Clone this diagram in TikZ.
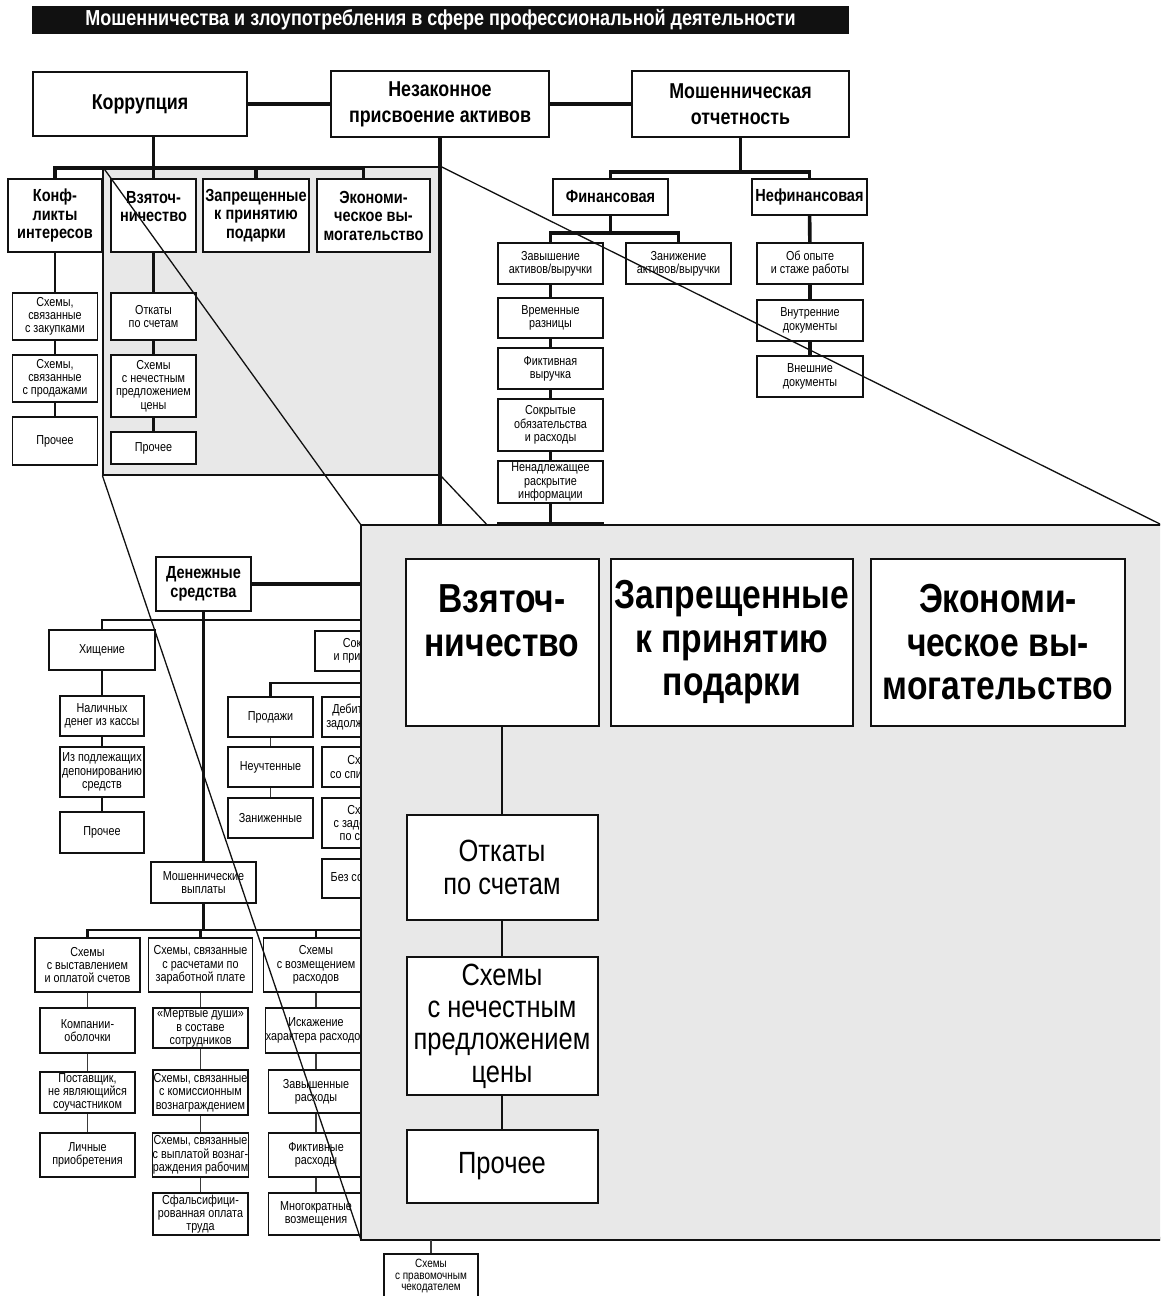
\documentclass[tikz,border=0pt]{standalone}
\usepackage{fontspec}
\setmainfont[FakeStretch=0.83]{Liberation Sans}
\usetikzlibrary{positioning,calc}
\definecolor{Ink}{HTML}{111111}
\definecolor{Shade}{HTML}{E8E8E8}
\definecolor{Link}{HTML}{3A3A3A}
\tikzset{
  boxsize/.style 2 args={minimum width=#1pt,minimum height=#2pt},
  titlebar/.style={fill=Ink,text=white,inner sep=0pt,font=\fontsize{21.7}{22}\selectfont\bfseries},
  topbox/.style={draw=Ink,fill=white,line width=1.8pt,align=center,inner sep=1pt,font=\fontsize{21.5}{26}\selectfont\bfseries},
  groupbox/.style={draw=Ink,fill=white,line width=1.6pt,align=center,inner sep=1pt,font=\fontsize{17.5}{18.5}\selectfont\bfseries},
  leafbox/.style={draw=Ink,fill=white,line width=1.4pt,align=center,inner sep=0.5pt,font=\fontsize{13}{13.3}\selectfont},
  bigbox/.style={draw=Ink,fill=white,line width=2pt,align=center,inner sep=1pt,font=\fontsize{40.5}{43.5}\selectfont\bfseries},
  bigleaf/.style={draw=Ink,fill=white,line width=2pt,align=center,inner sep=1pt,font=\fontsize{30.7}{32.3}\selectfont},
  panel/.style={draw=Ink,fill=Shade,line width=1.2pt,inner sep=0pt},
  link/.style={draw=Ink,line width=3.6pt},
  midlink/.style={draw=Ink,line width=2.6pt},
  thinlink/.style={draw=Link,line width=1.8pt},
  ray/.style={draw=Ink,line width=1.3pt}
}

\begin{document}
\begin{tikzpicture}[x=1pt,y=-1pt]
  \useasboundingbox (0,0) rectangle (1160,1296);
  \clip (0,0) rectangle (1160,1296);

  \node[titlebar,boxsize={817}{28}] (title) at (440.5,20) {Мошенничества и злоупотребления в сфере профессиональной деятельности};

  % part of the tree shown enlarged
  \node[panel,boxsize={337}{308}] (src) at (271.5,321) {};

  % top level
  \node[topbox,boxsize={214}{64}] (korr) at (140,104) {Коррупция};
  \node[topbox,boxsize={218}{66}] (nezak) at (440,104) {Незаконное\\присвоение активов};
  \node[topbox,boxsize={217}{66}] (moshot) at (740.5,104) {Мошенническая\\отчетность};

  % corruption
  \node[groupbox,boxsize={94}{73}] (konf) at (55,215.5) {Конф-\\ликты\\интересов};
  \node[groupbox,boxsize={85}{73}] (vzyat) at (153.5,215.5) {Взяточ-\\ничество\\\mbox{}};
  \node[groupbox,boxsize={106}{73}] (zapr) at (256,215.5) {Запрещенные\\к принятию\\подарки};
  \node[groupbox,boxsize={113}{73}] (ekon) at (373.5,215.5) {Экономи-\\ческое вы-\\могательство};
  \node[leafbox,boxsize={85}{47}] (konf1) at (55,316.5) {Схемы,\\связанные\\с закупками};
  \node[leafbox,boxsize={85}{47}] (konf2) at (55,378.5) {Схемы,\\связанные\\с продажами};
  \node[leafbox,boxsize={85}{48}] (konf3) at (55,441) {Прочее};
  \node[leafbox,boxsize={85}{47}] (vz1) at (153.5,316.5) {Откаты\\по счетам};
  \node[leafbox,boxsize={85}{62}] (vz2) at (153.5,386) {Схемы\\с нечестным\\предложением\\цены};
  \node[leafbox,boxsize={85}{32}] (vz3) at (153.5,448) {Прочее};

  % fraudulent statements
  \node[groupbox,boxsize={115}{36}] (fin) at (610.5,197) {Финансовая};
  \node[groupbox,boxsize={115}{36}] (nefin) at (809.5,197) {Нефинансовая};
  \node[leafbox,boxsize={105}{41}] (zav) at (550.5,263.5) {Завышение\\активов/выручки};
  \node[leafbox,boxsize={105}{41}] (zan) at (678.5,263.5) {Занижение\\активов/выручки};
  \node[leafbox,boxsize={105}{40}] (vrem) at (550.5,318) {Временные\\разницы};
  \node[leafbox,boxsize={105}{41}] (fikt) at (550.5,368.5) {Фиктивная\\выручка};
  \node[leafbox,boxsize={105}{52}] (sokr) at (550.5,425) {Сокрытые\\обязательства\\и расходы};
  \node[leafbox,boxsize={105}{42}] (nenad) at (550.5,482) {Ненадлежащее\\раскрытие\\информации};
  \node[leafbox,boxsize={105}{42}] (nextf) at (550.5,544) {};
  \node[leafbox,boxsize={106}{41}] (opyt) at (810,263.5) {Об опыте\\и стаже работы};
  \node[leafbox,boxsize={106}{41}] (vnutr) at (810,320.5) {Внутренние\\документы};
  \node[leafbox,boxsize={106}{41}] (vnesh) at (810,376.5) {Внешние\\документы};

  % cash
  \node[groupbox,boxsize={95}{54}] (den) at (203.5,584) {Денежные\\средства};
  \node[leafbox,boxsize={106}{40}] (hish) at (102,650) {Хищение};
  \node[leafbox,boxsize={84}{40}] (nal) at (102,716) {Наличных\\денег из кассы};
  \node[leafbox,boxsize={84}{50}] (depon) at (102,772) {Из подлежащих\\депонированию\\средств};
  \node[leafbox,boxsize={84}{41}] (hproch) at (102,832.5) {Прочее};
  \node[leafbox,boxsize={105}{40}] (so) at (367.5,651) {Сокрытие\\и присвоение};
  \node[leafbox,boxsize={85}{40}] (prod) at (270.5,717) {Продажи};
  \node[leafbox,boxsize={85}{40}] (neuch) at (270.5,767) {Неучтенные};
  \node[leafbox,boxsize={85}{40}] (zanizh) at (270.5,818) {Заниженные};
  \node[leafbox,boxsize={85}{40}] (deb) at (364.5,717) {Дебиторская\\задолженность};
  \node[leafbox,boxsize={85}{40}] (spis) at (364.5,767) {Схемы\\со списанием};
  \node[leafbox,boxsize={85}{50}] (lap) at (364.5,823) {Схемы\\с задержкой\\по счетам};
  \node[leafbox,boxsize={85}{39}] (bezs) at (364.5,878.5) {Без сокрытия};

  % fraudulent disbursements
  \node[leafbox,boxsize={105}{41}] (mosh) at (203.5,882.5) {Мошеннические\\выплаты};
  \node[leafbox,boxsize={105}{54}] (sch1) at (87.5,965) {Схемы\\с выставлением\\и оплатой счетов};
  \node[leafbox,boxsize={104}{54}] (sch2) at (200.5,965) {Схемы, связанные\\с расчетами по\\заработной плате};
  \node[leafbox,boxsize={105}{54}] (sch3) at (316,965) {Схемы\\с возмещением\\расходов};
  \node[leafbox,boxsize={95}{45}] (obol) at (87.5,1030.5) {Компании-\\оболочки};
  \node[leafbox,boxsize={95}{41}] (post) at (87.5,1092.5) {Поставщик,\\не являющийся\\соучастником};
  \node[leafbox,boxsize={95}{44}] (lich) at (87.5,1155) {Личные\\приобретения};
  \node[leafbox,boxsize={95}{40}] (mertv) at (200.5,1028) {«Мертвые души»\\в составе\\сотрудников};
  \node[leafbox,boxsize={95}{45}] (komis) at (200.5,1092.5) {Схемы, связанные\\с комиссионным\\вознаграждением};
  \node[leafbox,boxsize={95}{44}] (vypl) at (200.5,1155) {Схемы, связанные\\с выплатой вознаг-\\раждения рабочим};
  \node[leafbox,boxsize={95}{42}] (sfals) at (200.5,1214) {Сфальсифици-\\рованная оплата\\труда};
  \node[leafbox,boxsize={95}{45}] (iskazh) at (316,1030.5) {Искажение\\характера расходов};
  \node[leafbox,boxsize={95}{43}] (zavysh) at (316,1091.5) {Завышенные\\расходы};
  \node[leafbox,boxsize={95}{44}] (fiktr) at (316,1155) {Фиктивные\\расходы};
  \node[leafbox,boxsize={95}{42}] (mnogo) at (316,1214) {Многократные\\возмещения};
  \node[leafbox,boxsize={94}{44},font=\fontsize{12}{11.8}\selectfont] (chek) at (431,1276) {Схемы\\с правомочным\\чекодателем};

  % connectors
  \draw[link] (korr) -- (nezak) -- (moshot);
  \coordinate (kbar) at (0,168);
  \coordinate (ekonup) at ([xshift=-10pt]ekon.north);
  \draw[link] (vzyat.north |- korr.south) -- (vzyat.north);
  \draw[link] (konf.north) -- (konf.north |- kbar) -- (ekonup |- kbar) -- (ekonup);
  \draw[link] (zapr.north |- kbar) -- (zapr.north);
  \draw[midlink] (konf) -- (konf1) -- (konf2) -- (konf3);
  \draw[midlink] (vzyat) -- (vz1) -- (vz2) -- (vz3);

  \coordinate (mbar) at (0,172);
  \coordinate (fbar) at (0,233);
  \draw[link] (moshot.south) -- (moshot.south |- mbar);
  \draw[link] (fin.north) -- (fin.north |- mbar) -- (nefin.north |- mbar) -- (nefin.north);
  \draw[link] (fin.south) -- (fin.south |- fbar);
  \draw[link] (zav.north) -- (zav.north |- fbar) -- (zan.north |- fbar) -- (zan.north);
  \draw[midlink] (zav) -- (vrem) -- (fikt) -- (sokr) -- (nenad) -- (nextf);
  \draw[link] (nefin) -- (opyt) -- (vnutr) -- (vnesh);

  \coordinate (cbar) at (0,620);
  \coordinate (sbar) at (0,683);
  \draw[link] (nezak.south) -- (nezak.south |- den.east) -- (den.east);
  \draw[link] (den) -- (mosh);
  \draw[midlink] (hish.north) -- (hish.north |- cbar) -- (so.north |- cbar) -- (so.north);
  \draw[midlink] (hish) -- (nal) -- (depon) -- (hproch);
  \draw[midlink] (so.south) -- (so.south |- sbar);
  \draw[midlink] (prod.north) -- (prod.north |- sbar) -- (deb.north |- sbar) -- (deb.north);
  \draw[thinlink] (prod) -- (neuch) -- (zanizh);
  \draw[thinlink] (deb) -- (spis) -- (lap) -- (bezs);

  \coordinate (pbar) at (0,930);
  \coordinate (pend) at (380,930);
  \draw[link] (mosh.south) -- (mosh.south |- pbar);
  \draw[midlink] (sch1.north) -- (sch1.north |- pbar) -- (pend);
  \draw[midlink] (sch2.north |- pbar) -- (sch2.north);
  \draw[midlink] (sch3.north |- pbar) -- (sch3.north);
  \draw[thinlink] (sch1) -- (obol) -- (post) -- (lich);
  \draw[thinlink] (sch2) -- (mertv) -- (komis) -- (vypl) -- (sfals);
  \draw[thinlink] (sch3) -- (iskazh) -- (zavysh) -- (fiktr) -- (mnogo);

  % enlarged view
  \coordinate (zoomnw) at (361,525);
  \coordinate (zoomse) at (1162,1240);
  \draw[ray] (src.north west) -- (zoomnw);
  \draw[ray] (src.south west) -- (zoomnw |- zoomse);
  \draw[ray] (src.north east) -- (zoomse |- zoomnw);
  \draw[ray] (src.south east) -- (zoomse);
  \draw[panel,line width=1.8pt] (zoomnw) rectangle (zoomse);

  \node[bigbox,boxsize={193}{167}] (bvzyat) at (502,642.5) {Взяточ-\\ничество\\\mbox{}};
  \node[bigbox,boxsize={242}{167}] (bzapr) at (732,642.5) {Запрещенные\\к принятию\\подарки};
  \node[bigbox,boxsize={254}{167}] (bekon) at (998,642.5) {Экономи-\\ческое вы-\\могательство};
  \node[bigleaf,boxsize={191}{105}] (botk) at (502,867.5) {Откаты\\по счетам};
  \node[bigleaf,boxsize={191}{138}] (bsch) at (502,1026) {Схемы\\с нечестным\\предложением\\цены};
  \node[bigleaf,boxsize={191}{73}] (bproch) at (502,1166.5) {Прочее};
  \draw[midlink] (bvzyat) -- (botk) -- (bsch) -- (bproch);

  \coordinate (chektop) at (chek.north |- zoomse);
  \draw[thinlink] (chektop) -- (chek.north);
\end{tikzpicture}
\end{document}
